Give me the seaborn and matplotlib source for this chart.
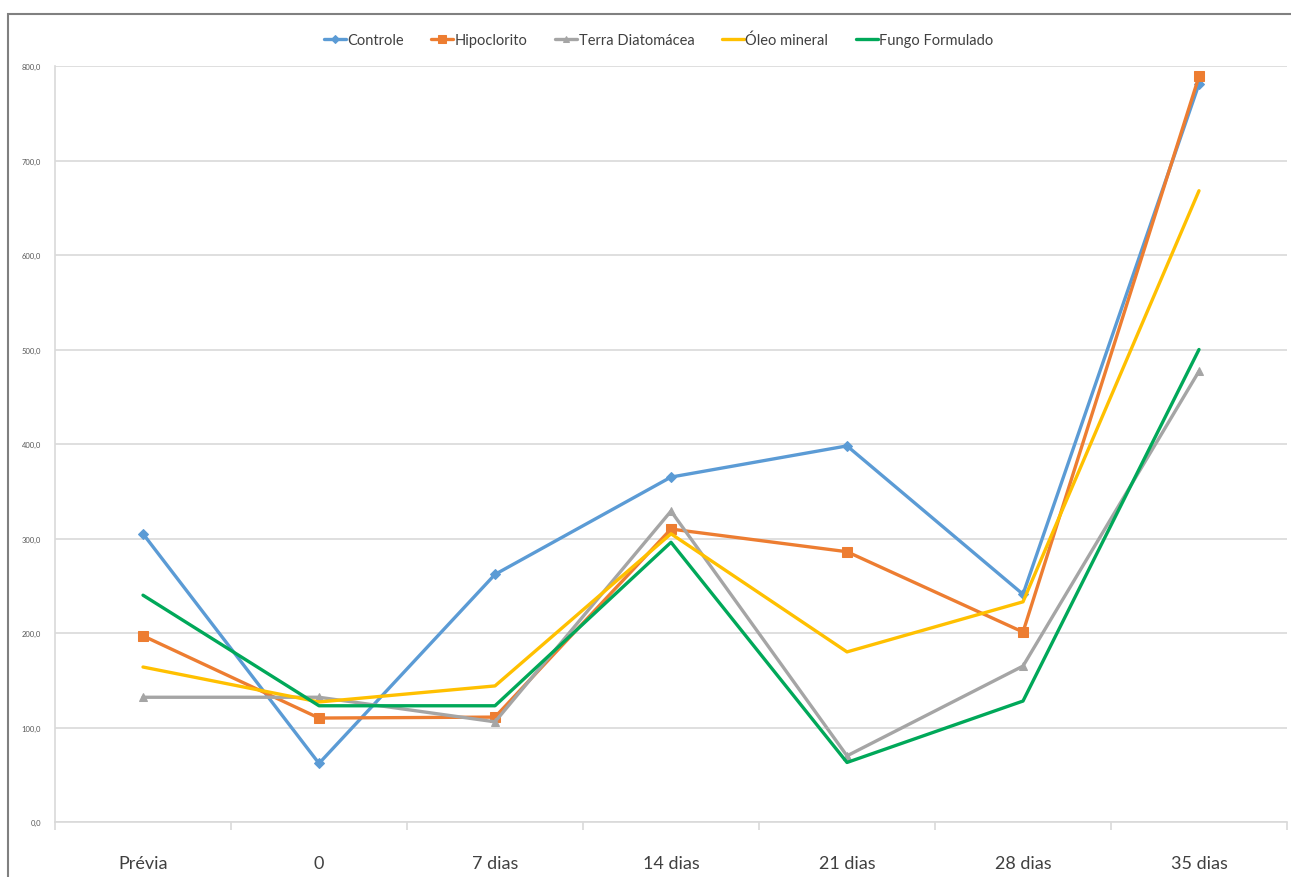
import matplotlib
matplotlib.use("Agg")
import matplotlib.pyplot as plt
import seaborn as sns
import pandas as pd
from matplotlib.ticker import FuncFormatter, MultipleLocator, FixedLocator
from matplotlib.patches import Rectangle

categories = ["Prévia", "0", "7 dias", "14 dias", "21 dias", "28 dias", "35 dias"]
controle = [305, 62, 262, 365, 398, 241, 781]
hipoclorito = [197, 110, 111, 310, 286, 201, 789]
terra = [132, 132, 106, 329, 70, 165, 477]
oleo = [164, 127, 144, 305, 180, 233, 668]
fungo = [240, 123, 123, 296, 63, 128, 500]

series_names = ["Controle", "Hipoclorito", "Terra Diatomácea", "Óleo mineral", "Fungo Formulado"]
series_values = [controle, hipoclorito, terra, oleo, fungo]
colors = ["#5B9BD5", "#ED7D31", "#A5A5A5", "#FFC000", "#00A859"]
markers = ["D", "s", "^", None, None]

rows = []
for name, vals in zip(series_names, series_values):
    for c, v in zip(categories, vals):
        rows.append({"Categoria": c, "Valor": v, "Série": name})
df = pd.DataFrame(rows)

sns.set_theme(style="white")
plt.rcParams["font.family"] = ["Lato", "DejaVu Sans"]

fig = plt.figure(figsize=(12.91, 8.78), dpi=100)
ax = fig.add_axes([55/1291, (878-823)/878, (1287-55)/1291, (823-67)/878])

for name, col, mk in zip(series_names, colors, markers):
    sub = df[df["Série"] == name]
    sns.lineplot(data=sub, x="Categoria", y="Valor", ax=ax, color=col,
                 linewidth=2.4, marker=mk if mk else None,
                 markersize={"D": 5, "s": 6.5, "^": 6}.get(mk, 0),
                 markeredgecolor=col, label=name, sort=False)

ax.set_xlim(-0.5, len(categories) - 0.5)
ax.set_ylim(0, 800)
ax.yaxis.set_major_locator(MultipleLocator(100))
ax.yaxis.set_major_formatter(FuncFormatter(lambda v, p: f"{v:.1f}".replace(".", ",")))
ax.grid(axis="y", color="#D9D9D9", linewidth=1.2)
ax.set_axisbelow(True)
ax.set_xlabel("")
ax.set_ylabel("")

for s in ["top", "right"]:
    ax.spines[s].set_visible(False)
ax.spines["left"].set_color("#D9D9D9")
ax.spines["bottom"].set_color("#D9D9D9")
ax.spines["left"].set_linewidth(1.2)
ax.spines["bottom"].set_linewidth(1.2)

ax.set_xticks(range(len(categories)))
ax.set_xticklabels(categories)
ax.xaxis.set_minor_locator(FixedLocator([i - 0.5 for i in range(len(categories) + 1)]))
ax.tick_params(axis="x", which="major", length=0, labelsize=13, labelcolor="#404040", pad=24)
ax.tick_params(axis="x", which="minor", length=6, color="#D9D9D9", width=1.2, bottom=True)
ax.tick_params(axis="y", length=0, labelsize=5.5, labelcolor="#595959", pad=10)

leg = ax.legend(loc="upper center", bbox_to_anchor=(0.49, 1.062), ncol=5, frameon=False,
                fontsize=10.5, handlelength=1.5, handletextpad=0.1, columnspacing=1.9,
                labelcolor="#404040", markerscale=0.8)

fig.patches.append(Rectangle((8/1291, -0.1), 1.2, (878-15)/878 + 0.1, transform=fig.transFigure,
                             fill=False, edgecolor="#808080", linewidth=1.5))

fig.savefig("out.png", dpi=100, facecolor="white")
